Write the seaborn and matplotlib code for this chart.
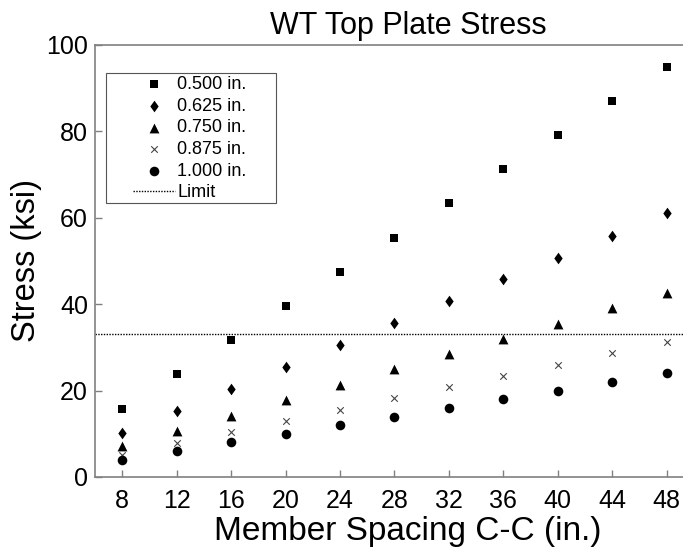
import pandas as pd
import matplotlib.pyplot as plt
from matplotlib.patches import Rectangle
import seaborn as sns

# Data
spacing = [8, 12, 16, 20, 24, 28, 32, 36, 40, 44, 48]
t_500 = [15.8, 23.8, 31.7, 39.6, 47.5, 55.4, 63.4, 71.3, 79.2, 87.1, 95.0]
t_625 = [10.2, 15.3, 20.3, 25.4, 30.5, 35.6, 40.7, 45.8, 50.8, 55.9, 61.0]
t_750 = [7.1, 10.7, 14.2, 17.8, 21.3, 24.9, 28.4, 32.0, 35.5, 39.1, 42.7]
t_875 = [5.2, 7.8, 10.4, 13.0, 15.6, 18.2, 20.8, 23.4, 26.0, 28.6, 31.2]
t_1000 = [4.0, 6.0, 8.0, 10.0, 12.0, 14.0, 16.0, 18.0, 20.0, 22.0, 24.0]
labels = ["0.500 in.", "0.625 in.", "0.750 in.", "0.875 in.", "1.000 in."]
limit = 33.0
xticks = [8, 12, 16, 20, 24, 28, 32, 36, 40, 44, 48]
yticks = [0, 20, 40, 60, 80, 100]

sns.set_style("white")
plt.rcParams["font.family"] = ["Liberation Sans", "DejaVu Sans"]
plt.rcParams["text.color"] = "black"
plt.rcParams["axes.labelcolor"] = "black"
plt.rcParams["xtick.color"] = "black"
plt.rcParams["ytick.color"] = "black"

frames = []
for lab, vals in zip(labels, [t_500, t_625, t_750, t_875, t_1000]):
    frames.append(pd.DataFrame({"spacing": spacing, "stress": vals, "thk": lab}))
df = pd.concat(frames, ignore_index=True)

fig = plt.figure(figsize=(6.83, 5.56), dpi=100)
ax = fig.add_axes([95 / 683, 79 / 556, 626 / 683, 432 / 556])

diamond = [(0, 1), (0.72, 0), (0, -1), (-0.72, 0)]
styles = {
    "0.500 in.": dict(marker="s", s=30),
    "0.625 in.": dict(marker=diamond, s=70),
    "0.750 in.": dict(marker="^", s=50),
    "0.875 in.": dict(marker="x", s=22),
    "1.000 in.": dict(marker="o", s=48),
}
for lab in labels:
    sub = df[df["thk"] == lab]
    if lab == "0.875 in.":
        sns.scatterplot(data=sub, x="spacing", y="stress", color="#444444",
                        linewidth=0.8, ax=ax, label=lab, **styles[lab])
    else:
        sns.scatterplot(data=sub, x="spacing", y="stress", color="black",
                        edgecolor="black", linewidth=0, ax=ax, label=lab, **styles[lab])

ax.axhline(limit, color="black", linestyle=(0, (1, 1)), linewidth=1.0, label="Limit")

ax.set_xlim(6, 52)
ax.set_ylim(0, 100)
ax.set_xticks(xticks)
ax.set_yticks(yticks)
ax.tick_params(direction="in", length=5, width=1, color="#808080",
               labelsize=18, bottom=True, left=True)
ax.tick_params(axis="x", pad=9)
ax.tick_params(axis="y", pad=5)
ax.spines["right"].set_visible(False)
for sp in ax.spines.values():
    sp.set_color("#808080")
    sp.set_linewidth(1.2)

ax.set_xlabel("Member Spacing C-C (in.)", fontsize=24, labelpad=2)
ax.set_ylabel("Stress (ksi)", fontsize=23.5, labelpad=3)
ax.set_title("WT Top Plate Stress", fontsize=22, pad=8)

handles, labs = ax.get_legend_handles_labels()
leg = ax.legend(handles, labs, loc="upper left", bbox_to_anchor=(133 / 683, 1 - 76 / 556),
                bbox_transform=fig.transFigure, fontsize=13, frameon=False,
                labelspacing=0.26, handlelength=2.3, handletextpad=0.15,
                borderpad=0, borderaxespad=0, markerfirst=True)
fig.patches.append(Rectangle((106 / 683, 1 - 203 / 556), 170 / 683, 130 / 556,
                             transform=fig.transFigure, fill=False,
                             edgecolor="#555555", linewidth=0.8))

fig.savefig("out.png", dpi=100)
